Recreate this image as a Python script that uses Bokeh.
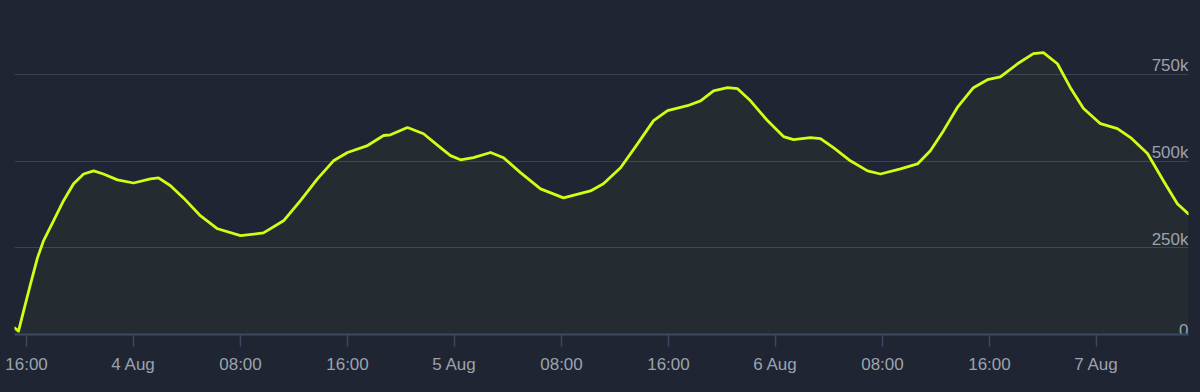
import pandas as pd
from bokeh.plotting import figure
from bokeh.models import Range1d, FixedTicker, ColumnDataSource
from bokeh.core.properties import value
from bokeh.embed import file_html
from bokeh.resources import INLINE

times = [
    "2024-08-03 15:06", "2024-08-03 15:24", "2024-08-03 15:47", "2024-08-03 16:18",
    "2024-08-03 16:49", "2024-08-03 17:16", "2024-08-03 18:01", "2024-08-03 18:46",
    "2024-08-03 19:31", "2024-08-03 20:16", "2024-08-03 21:01", "2024-08-03 21:45",
    "2024-08-03 22:48", "2024-08-04 00:00", "2024-08-04 01:16", "2024-08-04 01:52",
    "2024-08-04 02:46", "2024-08-04 03:44", "2024-08-04 05:01", "2024-08-04 06:17",
    "2024-08-04 08:00", "2024-08-04 09:43", "2024-08-04 11:13", "2024-08-04 12:29",
    "2024-08-04 13:45", "2024-08-04 14:57", "2024-08-04 16:00", "2024-08-04 17:30",
    "2024-08-04 18:42", "2024-08-04 19:13", "2024-08-04 20:29", "2024-08-04 21:41",
    "2024-08-04 22:57", "2024-08-04 23:42", "2024-08-05 00:27", "2024-08-05 01:25",
    "2024-08-05 02:42", "2024-08-05 03:40", "2024-08-05 04:56", "2024-08-05 06:26",
    "2024-08-05 08:09", "2024-08-05 10:10", "2024-08-05 11:08", "2024-08-05 12:25",
    "2024-08-05 13:41", "2024-08-05 14:53", "2024-08-05 15:56", "2024-08-05 17:25",
    "2024-08-05 18:24", "2024-08-05 19:22", "2024-08-05 20:25", "2024-08-05 21:10",
    "2024-08-05 22:08", "2024-08-05 23:24", "2024-08-06 00:36", "2024-08-06 01:21",
    "2024-08-06 02:37", "2024-08-06 03:22", "2024-08-06 04:20", "2024-08-06 05:36",
    "2024-08-06 06:53", "2024-08-06 07:51", "2024-08-06 09:21", "2024-08-06 10:37",
    "2024-08-06 11:35", "2024-08-06 12:34", "2024-08-06 13:36", "2024-08-06 14:48",
    "2024-08-06 15:51", "2024-08-06 16:49", "2024-08-06 18:06", "2024-08-06 19:17",
    "2024-08-06 20:02", "2024-08-06 21:05", "2024-08-06 22:03", "2024-08-06 23:02",
    "2024-08-07 00:18", "2024-08-07 01:34", "2024-08-07 02:33", "2024-08-07 03:49",
    "2024-08-07 05:01", "2024-08-07 06:03", "2024-08-07 06:53",
]
viewers = [
    19000, 10000, 68000, 146000, 221000, 270000, 328000, 386000,
    435000, 463000, 472000, 463000, 446000, 437000, 449000, 452000,
    429000, 394000, 342000, 305000, 285000, 293000, 328000, 386000,
    449000, 501000, 525000, 545000, 574000, 576000, 597000, 579000,
    539000, 516000, 504000, 510000, 525000, 510000, 467000, 420000,
    394000, 414000, 435000, 481000, 550000, 617000, 646000, 660000,
    674000, 703000, 712000, 709000, 674000, 617000, 571000, 562000,
    568000, 565000, 539000, 501000, 472000, 463000, 478000, 492000,
    530000, 588000, 655000, 712000, 735000, 743000, 781000, 810000,
    813000, 781000, 712000, 652000, 608000, 594000, 568000, 522000,
    443000, 377000, 348000,
]

tick_times = [
    "2024-08-03 16:00", "2024-08-04 00:00", "2024-08-04 08:00", "2024-08-04 16:00",
    "2024-08-05 00:00", "2024-08-05 08:00", "2024-08-05 16:00", "2024-08-06 00:00",
    "2024-08-06 08:00", "2024-08-06 16:00", "2024-08-07 00:00",
]
tick_labels = ["16:00", "4 Aug", "08:00", "16:00", "5 Aug", "08:00", "16:00",
               "6 Aug", "08:00", "16:00", "7 Aug"]

y_ticks = [0, 250000, 500000, 750000]
y_labels = ["0", "250k", "500k", "750k"]

BG = "#1f2533"
LINE = "#d4fc14"
GRID = "#3a4254"
AXIS = "#3c4862"
TXT = "#9ca2ad"
FONT = "Liberation Sans"

t = pd.to_datetime(times)
src = ColumnDataSource(dict(t=t, v=viewers, base=[0] * len(viewers)))

x0, x1 = t[0], t[-1]

p = figure(width=1196, height=390, x_axis_type="datetime",
           x_range=Range1d(x0, x1), y_range=Range1d(0, 911500),
           y_axis_location=None, toolbar_location=None,
           output_backend="svg", background_fill_color=BG,
           border_fill_color=BG, outline_line_color=None,
           min_border_left=14, min_border_right=8, min_border_top=18,
           min_border_bottom=56)

p.varea(x="t", y1="base", y2="v", source=src, fill_color=LINE, fill_alpha=0.035)
p.line(x="t", y="v", source=src, line_color=LINE, line_width=2.8,
       line_join="round", line_cap="round")

tick_ms = [int(pd.Timestamp(s).value // 10**6) for s in tick_times]
p.xaxis.ticker = FixedTicker(ticks=tick_ms)
p.xaxis.major_label_overrides = {m: l for m, l in zip(tick_ms, tick_labels)}
p.xaxis.axis_line_color = AXIS
p.xaxis.axis_line_width = 2
p.xaxis.major_tick_line_color = AXIS
p.xaxis.major_tick_line_width = 1.5
p.xaxis.major_tick_out = 12
p.xaxis.major_tick_in = 0
p.xaxis.minor_tick_line_color = None
p.xaxis.major_label_standoff = 8
p.xaxis.major_label_text_color = TXT
p.xaxis.major_label_text_font = FONT
p.xaxis.major_label_text_font_size = "17px"

p.xgrid.visible = False
p.ygrid.ticker = FixedTicker(ticks=y_ticks[1:])
p.ygrid.grid_line_color = GRID
p.ygrid.grid_line_width = 1

lab = ColumnDataSource(dict(x=[x1] * len(y_ticks), y=y_ticks, text=y_labels))
p.text(x="x", y="y", text="text", source=lab, text_align="right",
       text_baseline="bottom", y_offset=1, text_color=TXT,
       text_font=value(FONT), text_font_size="17px")

html = file_html(p, INLINE)
html = html.replace("</head>", "<style>html,body{margin:0 !important;padding:0 !important;background:%s;overflow:hidden;}</style></head>" % BG, 1)
open("out.html", "w").write(html)
